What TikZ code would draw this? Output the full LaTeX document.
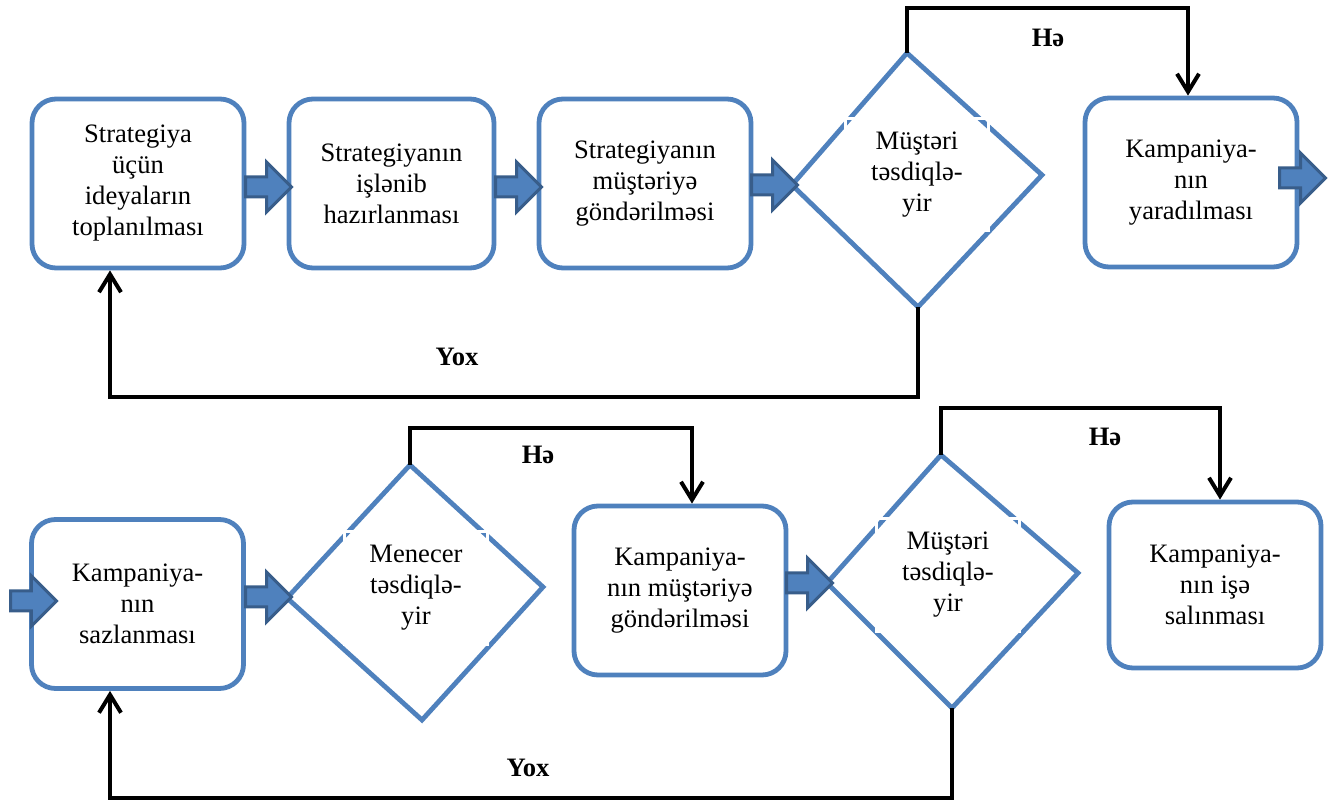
\documentclass[tikz,border=0pt]{standalone}
\usepackage{fontspec}
\setmainfont{Liberation Serif}
\usetikzlibrary{shapes.arrows,arrows.meta}
\definecolor{boxblue}{RGB}{79,129,189}
\definecolor{darkblue}{RGB}{56,93,138}

\begin{document}
\begin{tikzpicture}[x=0.5pt,y=-0.5pt,
    box/.style={draw=boxblue,line width=2.4pt,rounded corners=12pt,fill=white,align=center,
        minimum width=106pt,minimum height=84.5pt,font=\fontsize{13.3}{15.5}\selectfont},
    dtext/.style={draw=white,line width=1.5pt,align=center,minimum width=71.5pt,
        minimum height=56pt,font=\fontsize{13.3}{15.5}\selectfont},
    fat/.style={single arrow,draw=darkblue,fill=boxblue,line width=1.5pt,inner xsep=0pt,
        inner ysep=4.25pt,single arrow head extend=7.5pt,minimum height=23pt,anchor=tail},
    link/.style={line width=2pt,-{Straight Barb[length=9pt,width=11pt]}},
    ans/.style={font=\bfseries\fontsize{13.3}{15.5}\selectfont}]
    \useasboundingbox (0,0) rectangle (1333,801);

    \node[box] (b1) at (138,183.5) {Strategiya\\üçün\\ideyaların\\toplanılması};
    \node[box,minimum width=102.5pt] (b2) at (391.5,183.5) {Strategiyanın\\işlənib\\hazırlanması};
    \node[box] (b3) at (645,183.5) {Strategiyanın\\müştəriyə\\göndərilməsi};
    \node[box] (b4) at (1191,182.5) {Kampaniya-\\nın\\yaradılması};

    \node[box] (b5) at (137.5,604) {Kampaniya-\\nın\\sazlanması};
    \node[box] (b6) at (680,590.5) {Kampaniya-\\nın müştəriyə\\göndərilməsi};
    \node[box,minimum height=83pt] (b7) at (1215,585) {Kampaniya-\\nın işə\\salınması};

    \coordinate (d1t) at (907,53);
    \coordinate (d1r) at (1042,175);
    \coordinate (d1b) at (918,307);
    \coordinate (d1l) at (792,185);
    \draw[boxblue,line width=2.4pt] (d1t) -- (d1r) -- (d1b) -- (d1l) -- cycle;
    \node[dtext] (t1) at (917,175) {Müştəri\\təsdiqlə-\\yir};

    \coordinate (d2t) at (410,465);
    \coordinate (d2r) at (543,587);
    \coordinate (d2b) at (422,720);
    \coordinate (d2l) at (287,598);
    \draw[boxblue,line width=2.4pt] (d2t) -- (d2r) -- (d2b) -- (d2l) -- cycle;
    \node[dtext] (t2) at (416,588) {Menecer\\təsdiqlə-\\yir};

    \coordinate (d3t) at (941,455);
    \coordinate (d3r) at (1078,573);
    \coordinate (d3b) at (952,708);
    \coordinate (d3l) at (827,583);
    \draw[boxblue,line width=2.4pt] (d3t) -- (d3r) -- (d3b) -- (d3l) -- cycle;
    \node[dtext] (t3) at (948,575) {Müştəri\\təsdiqlə-\\yir};

    \node[fat] (f1) at (244,187) {};
    \node[fat] (f2) at (494,187) {};
    \node[fat] (f3) at (750,185) {};
    \node[fat] (f4) at (1278,178) {};
    \node[fat] (f5) at (9,601) {};
    \node[fat] (f6) at (244,597) {};
    \node[fat] (f7) at (785,583) {};

    \coordinate (h1) at (1188,8);
    \coordinate (h2) at (692,428);
    \coordinate (h3) at (1220,408);
    \coordinate (y1) at (110,397);
    \coordinate (y2) at (110,798);

    \draw[link] (d1t) |- (h1) -- (h1 |- b4.north);
    \draw[link] (d1b) |- (y1) -- (y1 |- b1.south);
    \draw[link] (d2t) |- (h2) -- (h2 |- b6.north);
    \draw[link] (d3t) |- (h3) -- (h3 |- b7.north);
    \draw[link] (d3b) |- (y2) -- (y2 |- b5.south);

    \node[ans] (l1) at (1048,38) {Hə};
    \node[ans] (l2) at (457,357) {Yox};
    \node[ans] (l3) at (538,455) {Hə};
    \node[ans] (l4) at (1105,437) {Hə};
    \node[ans] (l5) at (528,768) {Yox};
\end{tikzpicture}
\end{document}
